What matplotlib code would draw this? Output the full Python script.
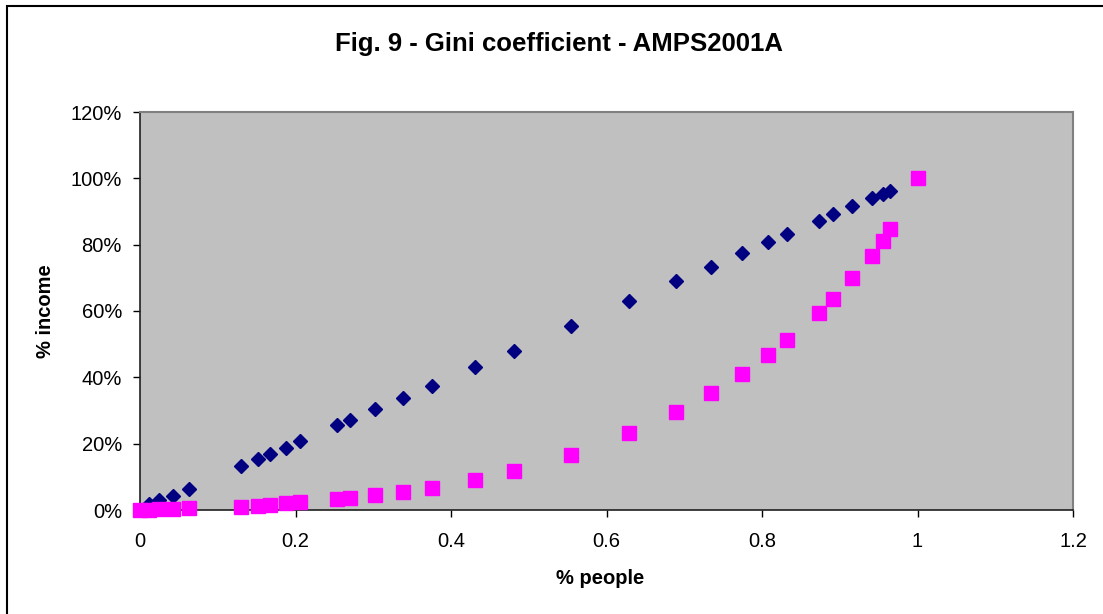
import matplotlib
matplotlib.use("Agg")
import matplotlib.pyplot as plt
from matplotlib.ticker import PercentFormatter
from matplotlib.patches import Rectangle

people = [0.0, 0.012, 0.024, 0.042, 0.063, 0.130, 0.152, 0.167, 0.188, 0.206,
          0.254, 0.270, 0.302, 0.338, 0.375, 0.431, 0.481, 0.554, 0.629, 0.689,
          0.734, 0.774, 0.808, 0.832, 0.873, 0.891, 0.916, 0.941, 0.955, 0.964, 1.0]
income_cum = [0.0, 0.018, 0.030, 0.043, 0.063, 0.133, 0.154, 0.169, 0.187, 0.208,
              0.256, 0.271, 0.304, 0.337, 0.374, 0.431, 0.480, 0.554, 0.630, 0.690,
              0.732, 0.774, 0.808, 0.831, 0.871, 0.891, 0.917, 0.940, 0.953, 0.962, 1.0]
income_low = [0.0, 0.001, 0.002, 0.003, 0.005, 0.009, 0.012, 0.015, 0.020, 0.024,
              0.033, 0.036, 0.045, 0.054, 0.066, 0.090, 0.117, 0.166, 0.232, 0.295,
              0.352, 0.410, 0.467, 0.512, 0.593, 0.636, 0.699, 0.765, 0.810, 0.846, 1.0]

plt.rcParams['font.family'] = ['Liberation Sans', 'DejaVu Sans']

W, H = 1103, 614
fig = plt.figure(figsize=(W / 100, H / 100), dpi=100)
fig.patch.set_facecolor('white')

# outer chart border
fig.patches.append(Rectangle((7 / W, -0.05), 1.2, 1 - 6 / H + 0.05, transform=fig.transFigure,
                             fill=False, edgecolor='black', linewidth=1.5, zorder=0))

left, right, top, bottom = 140, 1073, 112, 510
ax = fig.add_axes([left / W, 1 - bottom / H, (right - left) / W, (bottom - top) / H])
ax.set_facecolor('#C0C0C0')

ax.plot(people, income_cum, linestyle='none', marker='D', markersize=7.3,
        color='#000080', clip_on=False, zorder=3)
ax.plot(people, income_low, linestyle='none', marker='s', markersize=9.5,
        color='#FF00FF', clip_on=False, zorder=4)

ax.set_xlim(0, 1.2)
ax.set_ylim(0, 1.2)
ax.set_xticks([0, 0.2, 0.4, 0.6, 0.8, 1.0, 1.2])
ax.set_xticklabels(['0', '0.2', '0.4', '0.6', '0.8', '1', '1.2'])
ax.set_yticks([0, 0.2, 0.4, 0.6, 0.8, 1.0, 1.2])
ax.yaxis.set_major_formatter(PercentFormatter(1.0, decimals=0))

ax.tick_params(axis='both', direction='out', length=5, width=1, colors='black',
               labelsize=14.5)
ax.tick_params(axis='x', pad=11)
ax.tick_params(axis='y', pad=8)

for s in ['top', 'right']:
    ax.spines[s].set_color('#808080')
    ax.spines[s].set_linewidth(1.5)
for s in ['left', 'bottom']:
    ax.spines[s].set_color('#202020')
    ax.spines[s].set_linewidth(1.2)

ax.set_xlabel('% people', fontsize=14.5, fontweight='bold', labelpad=14)
ax.xaxis.set_label_coords((600 - left) / (right - left), -(579 - bottom) / (bottom - top))
ax.xaxis.label.set_va('center')
ax.set_ylabel('% income', fontsize=14.5, fontweight='bold')
ax.yaxis.set_label_coords(-(left - 45) / (right - left), (bottom - 311) / (bottom - top))
ax.yaxis.label.set_va('center')

fig.text(559 / W, 1 - 44 / H, 'Fig. 9 - Gini coefficient - AMPS2001A',
         ha='center', va='center', fontsize=18.5, fontweight='bold')

fig.savefig('out.png', dpi=100, facecolor='white')
